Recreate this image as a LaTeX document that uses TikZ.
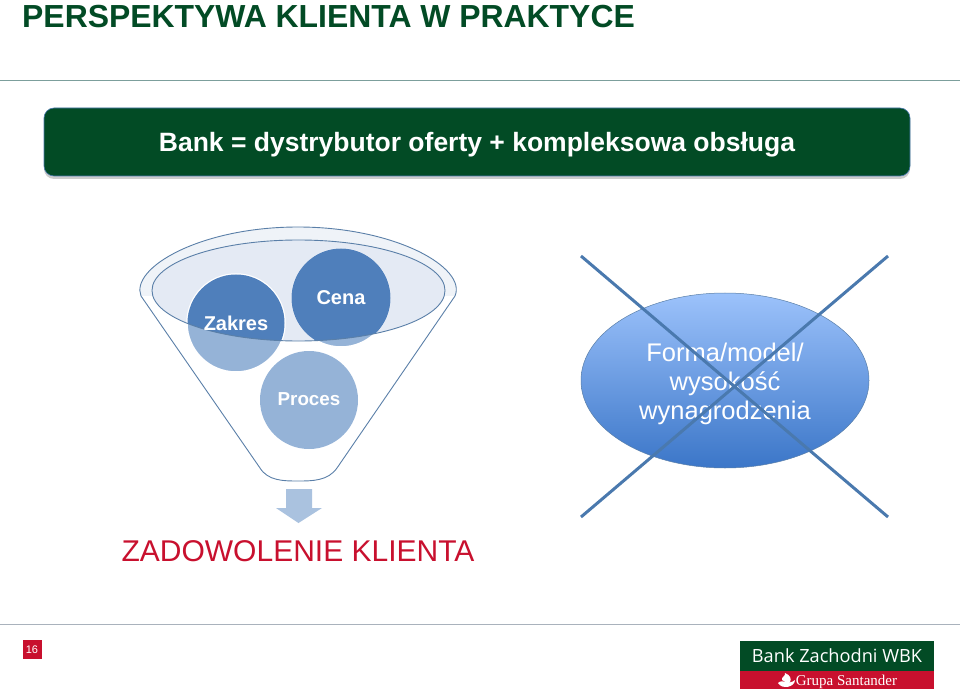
\documentclass[tikz,border=0pt]{standalone}
\usepackage{fontspec}
\setmainfont{Liberation Sans}
\newfontfamily\logofont{Open Sans}
\newfontfamily\logoserif{Liberation Serif}
\usetikzlibrary{shapes.geometric,shadows}
\definecolor{bzgreen}{HTML}{024B25}
\definecolor{bzred}{HTML}{C8102E}
\definecolor{funnelline}{HTML}{5A7FA8}
\definecolor{rimfill}{HTML}{EFF3F8}
\definecolor{mouthfill}{HTML}{E4EAF4}
\definecolor{circlelight}{HTML}{95B3D7}
\definecolor{circledark}{HTML}{4F7FBB}
\definecolor{crossline}{HTML}{4A79AE}
\definecolor{ovaltop}{HTML}{9CC2FB}
\definecolor{ovalbottom}{HTML}{3B76C8}
\tikzset{
  rule/.style={draw=#1, line width=1pt},
  ball/.style={circle, minimum size=98pt, inner sep=0pt, fill=circlelight},
  balltext/.style={text=white, inner sep=0pt, font=\bfseries\fontsize{20}{24}\selectfont},
  cross/.style={draw=crossline, line width=3pt, drop shadow={opacity=0.25, shadow xshift=0pt, shadow yshift=-1pt}},
}
\begin{document}
\begin{tikzpicture}[x=1pt, y=-1pt]
\useasboundingbox (0,0) rectangle (960,692);

\node[name=title, anchor=base west, inner sep=0pt, text=bzgreen, font=\bfseries\fontsize{31.9}{36}\selectfont] at (22,28) {PERSPEKTYWA KLIENTA W PRAKTYCE};
\draw[rule=funnelline!40!bzgreen!60!white] (0,81) -- (960,81);

\node[name=banner, draw=crossline, line width=0.6pt, fill=bzgreen, rounded corners=10pt, minimum width=866pt, minimum height=68pt, inner sep=0pt, drop shadow={opacity=0.4, shadow xshift=0pt, shadow yshift=-3pt}] at (477,142) {};
\node[name=bannertxt, anchor=base, inner sep=0pt, text=white, font=\bfseries\fontsize{26.5}{30}\selectfont] at (477,152) {Bank = dystrybutor oferty + kompleksowa obsługa};

% funnel
\fill[rimfill] (141,296) .. controls (130,268) and (200,227) .. (298,227) .. controls (396,227) and (467,268) .. (455,296) -- cycle;
\draw[funnelline, line width=0.9pt] (141,296) .. controls (130,268) and (200,227) .. (298,227) .. controls (396,227) and (467,268) .. (455,296) -- (337,468) .. controls (328,481) and (312,481) .. (298,481) .. controls (284,481) and (268,481) .. (260,468) -- cycle;
\fill[mouthfill] (298.5,290.5) ellipse [x radius=146.5, y radius=50.5];

\node[name=zakres, ball, draw=white, line width=1.5pt] at (236,323) {};
\node[name=cena, ball, draw=white, line width=1.5pt] at (341,298) {};
\node[name=proces, ball] at (309,400) {};
\begin{scope}
\clip (298.5,290.5) ellipse [x radius=146.5, y radius=50.5];
\fill[circledark] (zakres) circle (48.5);
\fill[circledark] (cena) circle (49.5);
\end{scope}
\draw[funnelline, line width=0.9pt] (298.5,290.5) ellipse [x radius=146.5, y radius=50.5];

\node[name=zakrestxt, balltext] at (236,323) {Zakres};
\node[name=cenatxt, balltext] at (341,298) {Cena};
\node[name=procestxt, balltext, font=\bfseries\fontsize{18.8}{24}\selectfont] at (309,399.5) {Proces};

\fill[circlelight!80!white] (286,489) -- (312,489) -- (312,508) -- (322,508) -- (298.5,523) -- (276,508) -- (286,508) -- cycle;

\node[name=wynik, anchor=base, inner sep=0pt, text=bzred, font=\fontsize{30}{36}\selectfont] at (298,561) {ZADOWOLENIE KLIENTA};

% crossed out
\node[name=forma, ellipse, minimum width=288pt, minimum height=175pt, inner sep=0pt, top color=ovaltop, bottom color=ovalbottom, draw=funnelline, line width=0.5pt] at (725,380.5) {};
\node[name=formatxt, inner sep=0pt, text=white, align=center, font=\fontsize{25.5}{29}\selectfont] at (725,383.5) {Forma/model/\\wysokość\\wynagrodzenia};

\coordinate (c1) at (581,256);
\coordinate (c2) at (888,517);
\coordinate (c3) at (888,256);
\coordinate (c4) at (581,517);
\draw[cross] (c1) -- (c2);
\draw[cross] (c3) -- (c4);

% footer
\draw[rule=funnelline!40!gray!60!white] (0,624) -- (960,624);
\node[name=nr, fill=bzred, minimum size=19pt, inner sep=0pt, text=white, font=\fontsize{11}{13}\selectfont] at (32,649.5) {16};

\node[name=logotop, fill=bzgreen, minimum width=194pt, minimum height=30pt, inner sep=0pt, text=white, font=\logofont\fontsize{18.2}{24}\selectfont] at (837,656) {Bank Zachodni WBK};
\node[name=logobot, fill=bzred, minimum width=194pt, minimum height=18pt, inner sep=0pt] at (837,680) {};
\node[name=logobottxt, anchor=base, inner sep=0pt, text=white, font=\logoserif\fontsize{15}{18}\selectfont] at (846.5,685.5) {Grupa Santander};
\fill[white] (778,683) .. controls (783,678) and (788,686) .. (795,680) .. controls (795,687) and (782,690) .. (778,683) -- cycle;
\fill[white] (782,680) .. controls (781,677) and (786,676) .. (785,673) .. controls (790,675) and (792,679) .. (790,682) .. controls (787,683) and (784,682) .. (782,680) -- cycle;
\end{tikzpicture}
\end{document}
